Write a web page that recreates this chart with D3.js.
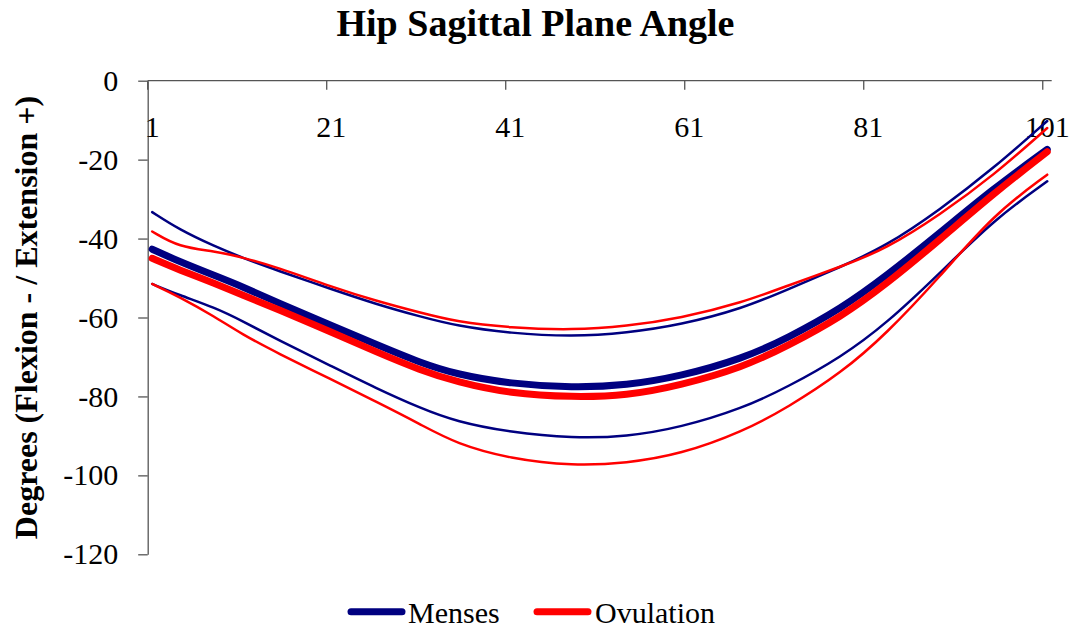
<!DOCTYPE html>
<html>
<head>
<meta charset="utf-8">
<script src="https://cdn.jsdelivr.net/npm/d3@7"></script>
<style>
  body { margin: 0; background: #fff; }
  svg text { font-family: "Liberation Serif", "Times New Roman", serif; fill: #000; }
</style>
</head>
<body>
<div id="chart"></div>
<script>
'use strict';

// gait cycle points (1..101), values read at these indices
const categories = d3.range(1, 102);
const sampleIdx = [1, 4, 8, 11, 15, 21, 26, 31, 35, 41, 48, 54, 60, 67, 72, 78, 83, 89, 95, 101];

const mensesMean = [-42.7, -45.8, -49.4, -52.1, -56.2, -62.0, -66.8, -71.5, -74.4, -76.8, -77.8, -77.2, -74.9, -70.4, -65.2, -57.7, -49.5, -38.6, -27.3, -17.4];
const mensesPlus = [-33.3, -37.7, -42.0, -44.8, -48.1, -52.8, -56.6, -59.8, -62.1, -64.0, -64.9, -63.9, -61.9, -57.7, -52.9, -47.1, -41.9, -32.7, -22.2, -10.2];
const mensesMinus = [-51.5, -54.3, -57.5, -60.8, -65.6, -72.3, -77.9, -83.0, -86.4, -89.1, -90.6, -90.2, -87.9, -83.0, -77.6, -70.0, -61.6, -48.8, -35.3, -25.5];

const ovulMean = [-45.0, -47.9, -51.4, -54.2, -57.9, -63.7, -68.7, -73.4, -76.3, -79.3, -80.2, -79.8, -77.2, -72.6, -67.2, -59.8, -51.6, -40.3, -28.6, -18.0];
const ovulPlus = [-38.2, -42.2, -43.2, -44.7, -47.3, -52.2, -55.8, -58.8, -61.1, -62.6, -63.2, -62.2, -60.2, -56.2, -51.9, -47.1, -42.6, -34.0, -24.0, -12.0];
const ovulMinus = [-51.5, -54.7, -59.8, -64.2, -69.0, -75.7, -81.3, -87.1, -92.0, -95.8, -97.6, -96.9, -94.7, -88.9, -82.8, -74.0, -64.2, -49.7, -33.9, -23.8];

const xTickLabels = [1, 21, 41, 61, 81, 101];
const yTicks = [0, -20, -40, -60, -80, -100, -120];

const width = 1073, height = 631;
const navy = '#000080', red = '#ff0000';

const series = [
  { name: 'Menses SD+', values: mensesPlus, color: navy, w: 2.5 },
  { name: 'Menses SD-', values: mensesMinus, color: navy, w: 2.5 },
  { name: 'Menses', values: mensesMean, color: navy, w: 7 },
  { name: 'Ovulation SD+', values: ovulPlus, color: red, w: 2.5 },
  { name: 'Ovulation SD-', values: ovulMinus, color: red, w: 2.5 },
  { name: 'Ovulation', values: ovulMean, color: red, w: 7 }
];

const svg = d3.select('#chart').append('svg')
  .attr('width', width).attr('height', height);

svg.append('rect').attr('width', width).attr('height', height).attr('fill', '#fff');

let x = d3.scaleBand().domain(categories).range([147.7, 1051.7]).padding(0);
let y = d3.scaleLinear().domain([-120, 0]).range([554.3, 80.7]);
let xc = d => x(d) + x.bandwidth() / 2;

// title
svg.append('text')
  .attr('x', 535.5).attr('y', 35.7)
  .attr('text-anchor', 'middle')
  .style('font-size', '38px').style('font-weight', 'bold')
  .text('Hip Sagittal Plane Angle');

// y axis title
svg.append('text')
  .attr('transform', 'translate(37,317.5) rotate(-90)')
  .attr('text-anchor', 'middle')
  .style('font-size', '32px').style('font-weight', 'bold')
  .text('Degrees (Flexion - / Extension +)');

// y axis
let yAxis = d3.axisLeft(y).tickValues(yTicks)
  .tickSizeInner(9.5).tickSizeOuter(0).tickPadding(20)
  .tickFormat(d => String(d));

let gy = svg.append('g').attr('transform', 'translate(147.7,0)').call(yAxis);
gy.selectAll('text').style('font-size', '30px').style('font-family', '"Liberation Serif", serif');
gy.selectAll('line, path').attr('stroke', '#555').attr('stroke-width', 1.3);

// x axis sits at y = 0, ticks point into the plot
let gx = svg.append('g');
gx.append('line')
  .attr('x1', x.range()[0]).attr('x2', x.range()[1])
  .attr('y1', y(0)).attr('y2', y(0))
  .attr('stroke', '#555').attr('stroke-width', 1.3);

gx.selectAll('.xtick').data(xTickLabels).enter().append('line')
  .attr('x1', d => x(d)).attr('x2', d => x(d))
  .attr('y1', y(0)).attr('y2', y(0) + 9)
  .attr('stroke', '#555').attr('stroke-width', 1.3);

gx.selectAll('.xlabel').data(xTickLabels).enter().append('text')
  .attr('x', d => xc(d)).attr('y', 137)
  .attr('text-anchor', 'middle')
  .style('font-size', '30px')
  .text(d => d);

// lines
let line = d3.line()
  .x(d => xc(d.i))
  .y(d => y(d.v))
  .curve(d3.curveBasis);

svg.append('g').selectAll('path').data(series).enter().append('path')
  .attr('d', s => line(sampleIdx.map((i, k) => ({ i: i, v: s.values[k] }))))
  .attr('fill', 'none')
  .attr('stroke', s => s.color)
  .attr('stroke-width', s => s.w)
  .attr('stroke-linecap', 'round')
  .attr('stroke-linejoin', 'round');

// legend
const legendItems = [
  { name: 'Menses', color: navy, x1: 351, x2: 402, tx: 408 },
  { name: 'Ovulation', color: red, x1: 537, x2: 588, tx: 595 }
];

let legend = svg.append('g');
legend.selectAll('line').data(legendItems).enter().append('line')
  .attr('x1', d => d.x1).attr('x2', d => d.x2)
  .attr('y1', 611.7).attr('y2', 611.7)
  .attr('stroke', d => d.color).attr('stroke-width', 7)
  .attr('stroke-linecap', 'round');

legend.selectAll('text').data(legendItems).enter().append('text')
  .attr('x', d => d.tx).attr('y', 622.5)
  .style('font-size', '30px')
  .text(d => d.name);
</script>
</body>
</html>
